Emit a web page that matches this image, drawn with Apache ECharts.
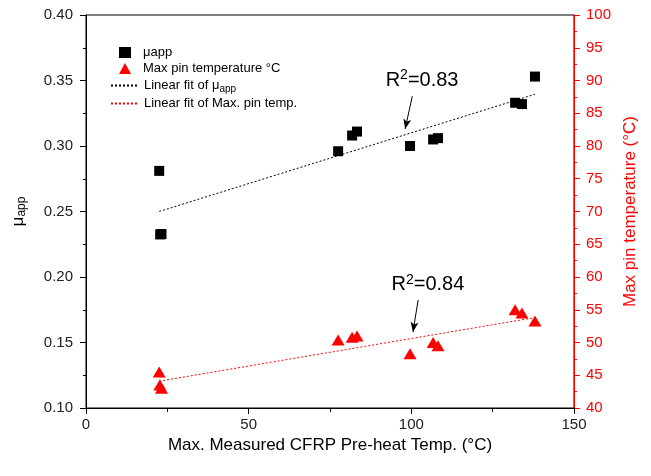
<!DOCTYPE html>
<html>
<head>
<meta charset="utf-8">
<script src="https://cdn.jsdelivr.net/npm/echarts@6/dist/echarts.min.js"></script>
<style>
  html, body { margin: 0; padding: 0; background: #fff; }
  #main { width: 651px; height: 476px; }
</style>
</head>
<body>
<div id="main"></div>
<script>
var myChart = echarts.init(document.getElementById('main'));

// preheat temperature (x) for each test
var muTemp = [22.5, 22.8, 23.2, 77.5, 81.8, 83.3, 99.6, 106.7, 108.2, 131.9, 134.0, 138.0];
var muValues = [0.281, 0.2325, 0.2328, 0.296, 0.308, 0.311, 0.300, 0.305, 0.306, 0.333, 0.332, 0.353];

var pinTemp = [22.5, 22.7, 23.2, 77.5, 81.8, 83.3, 99.6, 106.7, 108.2, 131.9, 134.0, 138.0];
var pinValues = [45.5, 43.5, 43.0, 50.4, 50.8, 51.0, 48.3, 50.0, 49.5, 55.0, 54.5, 53.3];

// fitted lines (end points)
var muFit = [[22.5, 0.250], [138, 0.3395]];
var pinFit = [[22.5, 44.1], [138, 53.8]];

var font = 'Liberation Sans, Arial, sans-serif';

function pairs(xs, ys) {
    var out = [];
    for (var i = 0; i < xs.length; i++) out.push([xs[i], ys[i]]);
    return out;
}

var rLabel = {
    show: true,
    position: 'inside',
    fontFamily: font, fontSize: 20, color: '#000',
    rich: {
        t: {fontFamily: font, fontSize: 20, color: '#000'},
        sup: {fontFamily: font, fontSize: 14, color: '#000', verticalAlign: 'top', padding: [0, 0, 10, 0]}
    }
};

var legendText = {
    fontFamily: font, fontSize: 13, color: '#000',
    rich: {
        a: {fontFamily: font, fontSize: 13, color: '#000'},
        sub: {fontFamily: font, fontSize: 10, color: '#000', verticalAlign: 'bottom', padding: [7, 0, 0, 0]}
    }
};

var option = {
    animation: false,
    grid: {
        left: 86, right: 77, top: 15, bottom: 68,
        show: true, borderColor: '#000', borderWidth: 1
    },
    legend: [
        {
            orient: 'vertical',
            left: 119, top: 46, padding: 0,
            itemWidth: 12, itemHeight: 11, itemGap: 3,
            textStyle: Object.assign({padding: [0, 0, 0, 7]}, legendText),
            data: ['μapp', 'Max pin temperature °C']
        },
        {
            orient: 'vertical',
            left: 110, top: 79, padding: 0,
            itemWidth: 28, itemHeight: 10, itemGap: 3,
            textStyle: legendText,
            formatter: function (name) {
                if (name === 'fitMu') return '{a|Linear fit of μ}{sub|app}';
                return '{a|Linear fit of Max. pin temp.}';
            },
            data: [
                {name: 'fitMu', itemStyle: {opacity: 0}},
                {name: 'fitPin', itemStyle: {opacity: 0}}
            ]
        }
    ],
    xAxis: {
        type: 'value',
        min: 0, max: 150, interval: 50,
        name: 'Max. Measured CFRP Pre-heat Temp. (°C)',
        nameLocation: 'middle', nameGap: 17,
        nameTextStyle: {fontFamily: font, fontSize: 17, color: '#000'},
        axisLine: {show: true, lineStyle: {color: '#000', width: 1}},
        axisTick: {show: true, inside: false, length: 6, lineStyle: {color: '#000'}},
        minorTick: {show: true, splitNumber: 2, length: 4, lineStyle: {color: '#000'}},
        axisLabel: {fontFamily: font, fontSize: 15, color: '#222', margin: 9},
        splitLine: {show: false}
    },
    yAxis: [
        {
            type: 'value',
            min: 0.10, max: 0.40, interval: 0.05,
            name: '{m|μ}{s|app}',
            nameLocation: 'middle', nameGap: 58, nameRotate: 90,
            nameTextStyle: {
                fontFamily: font, fontSize: 17, color: '#000',
                rich: {
                    m: {fontFamily: font, fontSize: 17, color: '#000'},
                    s: {fontFamily: font, fontSize: 12, color: '#000', verticalAlign: 'bottom', padding: [8, 0, 0, 0]}
                }
            },
            axisLine: {show: true, lineStyle: {color: '#000', width: 1}},
            axisTick: {show: true, inside: false, length: 6, lineStyle: {color: '#000'}},
            minorTick: {show: true, splitNumber: 2, length: 3, lineStyle: {color: '#000'}},
            axisLabel: {
                fontFamily: font, fontSize: 15, color: '#222', margin: 13,
                formatter: function (v) { return v.toFixed(2); }
            },
            splitLine: {show: false}
        },
        {
            type: 'value',
            position: 'right',
            min: 40, max: 100, interval: 5,
            name: 'Max pin temperature (°C)',
            nameLocation: 'middle', nameGap: 45, nameRotate: 90,
            nameTextStyle: {fontFamily: font, fontSize: 17, color: '#ff0000'},
            axisLine: {show: true, lineStyle: {color: '#ff0000', width: 1}},
            axisTick: {show: true, inside: false, length: 6, lineStyle: {color: '#ff0000'}},
            minorTick: {show: true, splitNumber: 2, length: 3, lineStyle: {color: '#ff0000'}},
            axisLabel: {fontFamily: font, fontSize: 15, color: '#ff0000', margin: 12},
            splitLine: {show: false}
        }
    ],
    series: [
        {
            name: 'fitMu',
            type: 'line',
            yAxisIndex: 0,
            data: muFit,
            symbol: 'none',
            lineStyle: {color: '#000', width: 1, type: [2, 2]},
            itemStyle: {color: '#000'},
            markLine: {
                silent: true,
                symbol: ['none', 'arrow'],
                symbolSize: [6, 10],
                lineStyle: {color: '#000', width: 1, type: 'solid'},
                label: {show: false},
                data: [[{coord: [100.3, 0.3380]}, {coord: [98.1, 0.313]}]]
            },
            markPoint: {
                silent: true,
                symbol: 'circle',
                symbolSize: 1,
                itemStyle: {color: 'rgba(0,0,0,0)'},
                label: Object.assign({formatter: '{t|R}{sup|2}{t|=0.83}'}, rLabel),
                data: [{coord: [103.3, 0.350]}]
            }
        },
        {
            name: 'fitPin',
            type: 'line',
            yAxisIndex: 1,
            data: pinFit,
            symbol: 'none',
            lineStyle: {color: '#ff0000', width: 1, type: [2, 2]},
            itemStyle: {color: '#ff0000'},
            markLine: {
                silent: true,
                symbol: ['none', 'arrow'],
                symbolSize: [6, 10],
                lineStyle: {color: '#000', width: 1, type: 'solid'},
                label: {show: false},
                data: [[{coord: [102.1, 56.5]}, {coord: [100.5, 51.6]}]]
            },
            markPoint: {
                silent: true,
                symbol: 'circle',
                symbolSize: 1,
                itemStyle: {color: 'rgba(0,0,0,0)'},
                label: Object.assign({formatter: '{t|R}{sup|2}{t|=0.84}'}, rLabel),
                data: [{coord: [105.1, 58.8]}]
            }
        },
        {
            name: 'μapp',
            type: 'scatter',
            yAxisIndex: 0,
            data: pairs(muTemp, muValues),
            symbol: 'rect',
            symbolSize: 10,
            itemStyle: {color: '#000', opacity: 1}
        },
        {
            name: 'Max pin temperature °C',
            type: 'scatter',
            yAxisIndex: 1,
            data: pairs(pinTemp, pinValues),
            symbol: 'triangle',
            symbolSize: [13, 11],
            itemStyle: {color: '#ff0000', opacity: 1}
        }
    ]
};
myChart.setOption(option);
</script>
</body>
</html>
